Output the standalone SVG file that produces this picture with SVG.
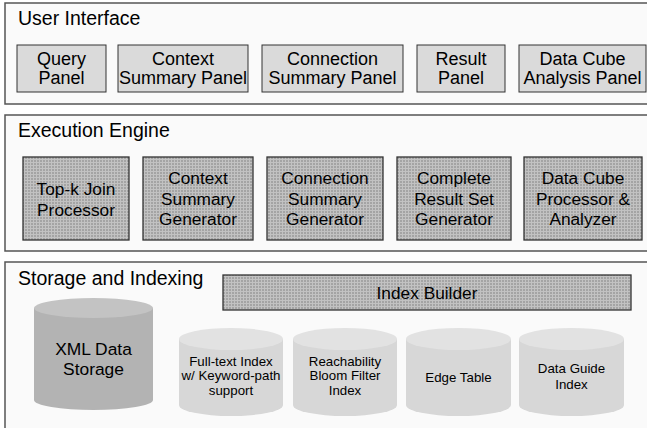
<svg xmlns="http://www.w3.org/2000/svg" width="647" height="428" viewBox="0 0 647 428">
<defs>
<pattern id="grid" width="3" height="3" patternUnits="userSpaceOnUse">
<rect width="3" height="3" fill="#a4a4a4"/>
<rect x="0" y="0" width="3" height="1" fill="#c2c2c2"/>
<rect x="0" y="0" width="1" height="3" fill="#c2c2c2"/>
</pattern>
<style>
.frame{fill:#fafafa;stroke:#555;stroke-width:1.5}
.ui{fill:#dadada;stroke:#333;stroke-width:1}
.ex{fill:url(#grid);stroke:#333;stroke-width:1.3}
.t{font-family:"Liberation Sans",Arial,sans-serif;fill:#000}
.title{font-size:19.5px}
.c{text-anchor:middle}
.s14{font-size:18px}
.s16{font-size:17.3px}
.s13{font-size:13.3px}
.big{fill:#b3b3b3}
.bigtop{fill:#c3c3c3}
.sm{fill:#d7d7d7}
.smtop{fill:#e2e2e2}
</style>
</defs>
<g id="ui-layer">
<rect class="frame" x="5" y="3" width="646" height="101"/>
<text class="t title" x="18" y="25">User Interface</text>
</g>
<g id="query-panel"><rect class="ui" x="17" y="45" width="89" height="47"/><text class="t s14 c" x="61.5" y="65">Query</text><text class="t s14 c" x="61.5" y="83.5">Panel</text></g>
<g id="context-summary-panel"><rect class="ui" x="118" y="45" width="130" height="47"/><text class="t s14 c" x="183" y="65">Context</text><text class="t s14 c" x="183" y="83.5">Summary Panel</text></g>
<g id="connection-summary-panel"><rect class="ui" x="262" y="45" width="141" height="47"/><text class="t s14 c" x="332.5" y="65">Connection</text><text class="t s14 c" x="332.5" y="83.5">Summary Panel</text></g>
<g id="result-panel"><rect class="ui" x="417" y="45" width="88" height="47"/><text class="t s14 c" x="461" y="65">Result</text><text class="t s14 c" x="461" y="83.5">Panel</text></g>
<g id="data-cube-panel"><rect class="ui" x="519" y="45" width="127" height="47"/><text class="t s14 c" x="582.5" y="65">Data Cube</text><text class="t s14 c" x="582.5" y="83.5">Analysis Panel</text></g>

<g id="execution-layer">
<rect class="frame" x="5" y="115" width="646" height="136"/>
<text class="t title" x="18" y="137">Execution Engine</text>
</g>
<g id="topk-join"><rect class="ex" x="23" y="157" width="106" height="83"/><text class="t s16 c" x="76" y="195">Top-k Join</text><text class="t s16 c" x="76" y="216">Processor</text></g>
<g id="context-summary-gen"><rect class="ex" x="143" y="157" width="110" height="83"/><text class="t s16 c" x="198" y="184">Context</text><text class="t s16 c" x="198" y="204.5">Summary</text><text class="t s16 c" x="198" y="225">Generator</text></g>
<g id="connection-summary-gen"><rect class="ex" x="267" y="157" width="116" height="83"/><text class="t s16 c" x="325" y="184">Connection</text><text class="t s16 c" x="325" y="204.5">Summary</text><text class="t s16 c" x="325" y="225">Generator</text></g>
<g id="complete-result-gen"><rect class="ex" x="397" y="157" width="114" height="83"/><text class="t s16 c" x="454" y="184">Complete</text><text class="t s16 c" x="454" y="204.5">Result Set</text><text class="t s16 c" x="454" y="225">Generator</text></g>
<g id="data-cube-processor"><rect class="ex" x="524" y="157" width="118" height="83"/><text class="t s16 c" x="583" y="184">Data Cube</text><text class="t s16 c" x="583" y="204.5">Processor &amp;</text><text class="t s16 c" x="583" y="225">Analyzer</text></g>

<g id="storage-layer">
<rect class="frame" x="5" y="262" width="646" height="175"/>
<text class="t title" x="18" y="285">Storage and Indexing</text>
</g>
<g id="index-builder"><rect class="ex" x="223" y="275" width="408" height="35"/><text class="t s16 c" x="427" y="299">Index Builder</text></g>
<g id="xml-data-storage">
<path class="big" d="M34,308 L34,400 A59.5,10 0 0 0 153,400 L153,308 Z"/>
<ellipse class="bigtop" cx="93.5" cy="308" rx="59.5" ry="10"/>
<text class="t c" style="font-size:17.4px" x="93.5" y="355">XML Data</text><text class="t c" style="font-size:17.4px" x="93.5" y="375">Storage</text>
</g>
<g id="fulltext-index">
<path class="sm" d="M179,339 L179,405 A52,11 0 0 0 283,405 L283,339 Z"/>
<ellipse class="smtop" cx="231" cy="339" rx="52" ry="11"/>
<text class="t s13 c" x="231" y="365.5">Full-text Index</text><text class="t s13 c" x="231" y="380">w/ Keyword-path</text><text class="t s13 c" x="231" y="394.5">support</text>
</g>
<g id="reachability-index">
<path class="sm" d="M293,339 L293,405 A52,11 0 0 0 397,405 L397,339 Z"/>
<ellipse class="smtop" cx="345" cy="339" rx="52" ry="11"/>
<text class="t s13 c" x="345" y="365.5">Reachability</text><text class="t s13 c" x="345" y="380">Bloom Filter</text><text class="t s13 c" x="345" y="394.5">Index</text>
</g>
<g id="edge-table">
<path class="sm" d="M406,339 L406,405 A52.5,11 0 0 0 511,405 L511,339 Z"/>
<ellipse class="smtop" cx="458.5" cy="339" rx="52.5" ry="11"/>
<text class="t s13 c" x="458.5" y="381.5">Edge Table</text>
</g>
<g id="data-guide-index">
<path class="sm" d="M519,339 L519,405 A52.5,11 0 0 0 624,405 L624,339 Z"/>
<ellipse class="smtop" cx="571.5" cy="339" rx="52.5" ry="11"/>
<text class="t s13 c" x="571.5" y="373">Data Guide</text><text class="t s13 c" x="571.5" y="388.5">Index</text>
</g>
<g id="connectors"/>
</svg>
